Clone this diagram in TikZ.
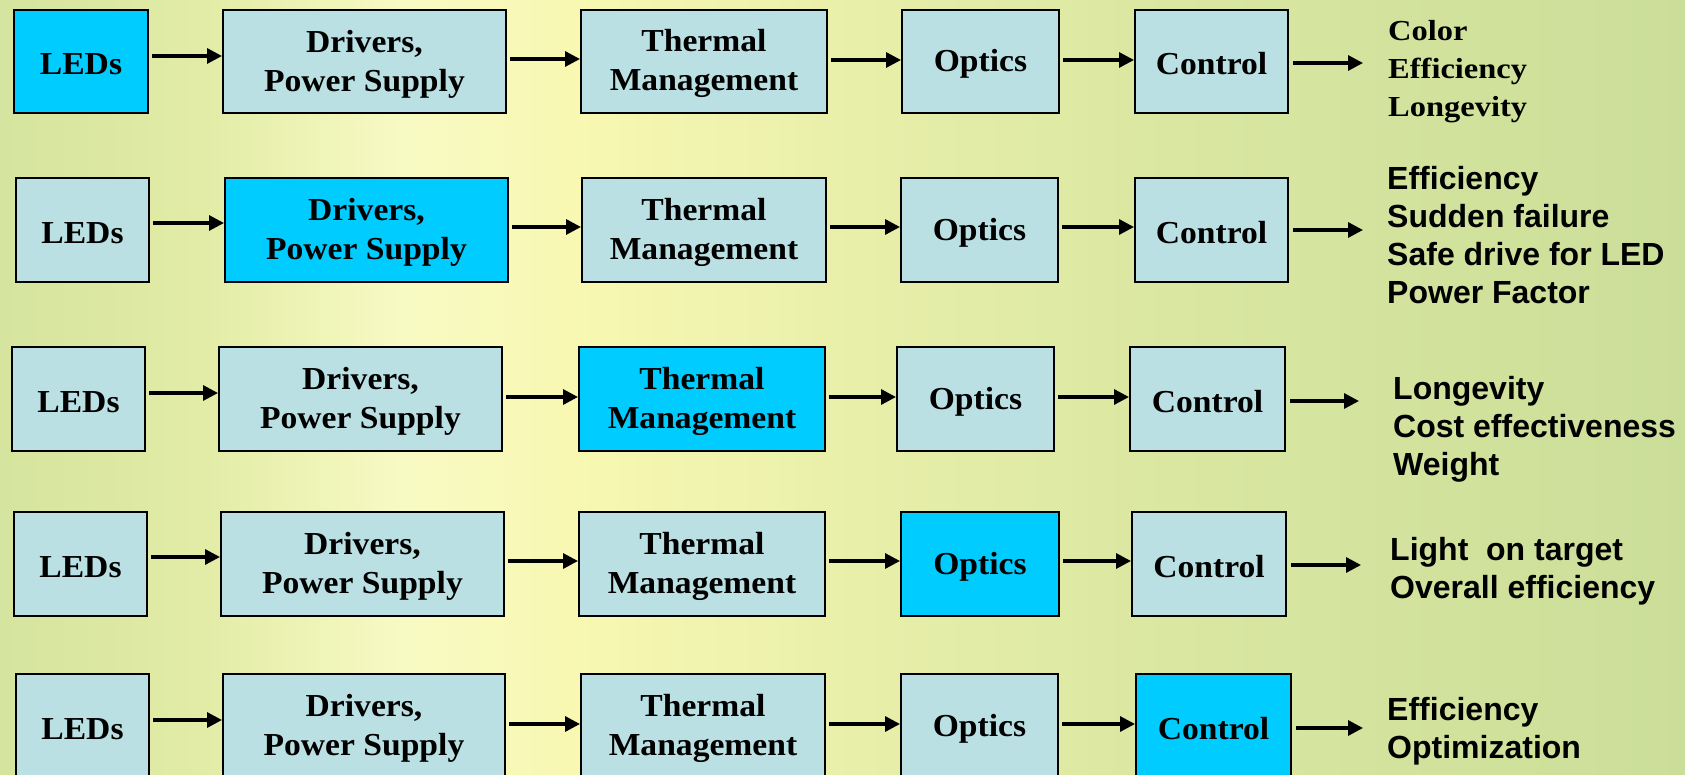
\documentclass[tikz,border=0pt]{standalone}
\usepackage{fontspec}
\usetikzlibrary{arrows.meta,calc}
\newfontfamily\boxfont{Liberation Serif}[FakeStretch=1.05]
\newfontfamily\rserif{Liberation Serif}[FakeStretch=1.12]
\newfontfamily\rsans{Liberation Sans}
\definecolor{boxfill}{HTML}{BBE0E3}
\definecolor{hifill}{HTML}{00CCFF}
\definecolor{bgA}{HTML}{D5E49E}
\definecolor{bgB}{HTML}{E2ECA6}
\definecolor{bgC}{HTML}{F8FAC4}
\definecolor{bgD}{HTML}{F8F8B2}
\definecolor{bgE}{HTML}{E6EEA8}
\definecolor{bgF}{HTML}{D8E6A0}
\definecolor{bgG}{HTML}{CBDE99}
\pgfdeclarehorizontalshading{bgsh}{100bp}{color(0bp)=(bgA); color(25bp)=(bgA); color(31bp)=(bgB); color(37bp)=(bgC); color(42bp)=(bgD); color(51.5bp)=(bgE); color(61bp)=(bgF); color(75bp)=(bgG); color(100bp)=(bgG)}
\newcommand\lowr{\rule{0pt}{27pt}}
\tikzset{
  blk/.style={draw=black, line width=2pt, fill=boxfill, inner sep=0pt, anchor=north west,
    align=center, font=\boxfont\bfseries\fontsize{32}{39}\selectfont},
  hi/.style={fill=hifill},
  arr/.style={line width=3.2pt, -{Triangle[length=15pt,width=15pt]}},
  outs/.style={anchor=north west, align=left, inner sep=0pt},
  serifout/.style={outs, font=\rserif\bfseries\fontsize{29}{38}\selectfont},
  sansout/.style={outs, font=\rsans\bfseries\fontsize{32}{38}\selectfont},
}
\begin{document}
\begin{tikzpicture}[x=1pt,y=-1pt]
\useasboundingbox (0,0) rectangle (1685,775);
\shade[shading=bgsh] (0,0) rectangle (1685,775);
% Row 1
\node[blk,hi,minimum width=134pt,minimum height=103pt] (a1) at (13,9) {\lowr LEDs};
\node[blk,minimum width=283pt,minimum height=103pt] (b1) at (222,9) {\lowr Drivers,\\Power Supply};
\node[blk,minimum width=246pt,minimum height=103pt] (c1) at (580,9) {\lowr Thermal\\Management};
\node[blk,minimum width=157pt,minimum height=103pt] (d1) at (901,9) {\lowr Optics};
\node[blk,minimum width=153pt,minimum height=103pt] (e1) at (1134,9) {\lowr Control};
\coordinate (o1) at (1363,63);
\draw[arr] ($(a1.east|-0,56)+(3,0)$) -- (b1.west|-0,56);
\draw[arr] ($(b1.east|-0,59)+(3,0)$) -- (c1.west|-0,59);
\draw[arr] ($(c1.east|-0,60)+(3,0)$) -- (d1.west|-0,60);
\draw[arr] ($(d1.east|-0,60)+(3,0)$) -- (e1.west|-0,60);
\draw[arr] ($(e1.east|-o1)+(4,0)$) -- (o1);
\node[serifout] (t1) at (1388,20) {Color\\Efficiency\\Longevity};
% Row 2
\node[blk,minimum width=133pt,minimum height=104pt] (a2) at (15,177) {\lowr LEDs};
\node[blk,hi,minimum width=283pt,minimum height=104pt] (b2) at (224,177) {\lowr Drivers,\\Power Supply};
\node[blk,minimum width=244pt,minimum height=104pt] (c2) at (581,177) {\lowr Thermal\\Management};
\node[blk,minimum width=157pt,minimum height=104pt] (d2) at (900,177) {\lowr Optics};
\node[blk,minimum width=153pt,minimum height=104pt] (e2) at (1134,177) {\lowr Control};
\coordinate (o2) at (1363,230);
\draw[arr] ($(a2.east|-0,223)+(3,0)$) -- (b2.west|-0,223);
\draw[arr] ($(b2.east|-0,227)+(3,0)$) -- (c2.west|-0,227);
\draw[arr] ($(c2.east|-0,227)+(3,0)$) -- (d2.west|-0,227);
\draw[arr] ($(d2.east|-0,227)+(3,0)$) -- (e2.west|-0,227);
\draw[arr] ($(e2.east|-o2)+(4,0)$) -- (o2);
\node[sansout] (t2) at (1387,166) {Efficiency\\Sudden failure\\Safe drive for LED\\Power Factor};
% Row 3
\node[blk,minimum width=133pt,minimum height=104pt] (a3) at (11,346) {\lowr LEDs};
\node[blk,minimum width=283pt,minimum height=104pt] (b3) at (218,346) {\lowr Drivers,\\Power Supply};
\node[blk,hi,minimum width=246pt,minimum height=104pt] (c3) at (578,346) {\lowr Thermal\\Management};
\node[blk,minimum width=157pt,minimum height=104pt] (d3) at (896,346) {\lowr Optics};
\node[blk,minimum width=155pt,minimum height=104pt] (e3) at (1129,346) {\lowr Control};
\coordinate (o3) at (1359,401);
\draw[arr] ($(a3.east|-0,393)+(3,0)$) -- (b3.west|-0,393);
\draw[arr] ($(b3.east|-0,397)+(3,0)$) -- (c3.west|-0,397);
\draw[arr] ($(c3.east|-0,397)+(3,0)$) -- (d3.west|-0,397);
\draw[arr] ($(d3.east|-0,397)+(3,0)$) -- (e3.west|-0,397);
\draw[arr] ($(e3.east|-o3)+(4,0)$) -- (o3);
\node[sansout] (t3) at (1393,376) {Longevity\\Cost effectiveness\\Weight};
% Row 4
\node[blk,minimum width=133pt,minimum height=104pt] (a4) at (13,511) {\lowr LEDs};
\node[blk,minimum width=283pt,minimum height=104pt] (b4) at (220,511) {\lowr Drivers,\\Power Supply};
\node[blk,minimum width=246pt,minimum height=104pt] (c4) at (578,511) {\lowr Thermal\\Management};
\node[blk,hi,minimum width=158pt,minimum height=104pt] (d4) at (900,511) {\lowr Optics};
\node[blk,minimum width=154pt,minimum height=104pt] (e4) at (1131,511) {\lowr Control};
\coordinate (o4) at (1361,565);
\draw[arr] ($(a4.east|-0,557)+(3,0)$) -- (b4.west|-0,557);
\draw[arr] ($(b4.east|-0,561)+(3,0)$) -- (c4.west|-0,561);
\draw[arr] ($(c4.east|-0,561)+(3,0)$) -- (d4.west|-0,561);
\draw[arr] ($(d4.east|-0,561)+(3,0)$) -- (e4.west|-0,561);
\draw[arr] ($(e4.east|-o4)+(4,0)$) -- (o4);
\node[sansout] (t4) at (1390,537) {Light\ \ on target\\Overall efficiency};
% Row 5
\node[blk,minimum width=133pt,minimum height=104pt] (a5) at (15,673) {\lowr LEDs};
\node[blk,minimum width=282pt,minimum height=104pt] (b5) at (222,673) {\lowr Drivers,\\Power Supply};
\node[blk,minimum width=244pt,minimum height=104pt] (c5) at (580,673) {\lowr Thermal\\Management};
\node[blk,minimum width=157pt,minimum height=104pt] (d5) at (900,673) {\lowr Optics};
\node[blk,hi,minimum width=155pt,minimum height=104pt] (e5) at (1135,673) {\lowr Control};
\coordinate (o5) at (1363,728);
\draw[arr] ($(a5.east|-0,720)+(3,0)$) -- (b5.west|-0,720);
\draw[arr] ($(b5.east|-0,724)+(3,0)$) -- (c5.west|-0,724);
\draw[arr] ($(c5.east|-0,724)+(3,0)$) -- (d5.west|-0,724);
\draw[arr] ($(d5.east|-0,724)+(3,0)$) -- (e5.west|-0,724);
\draw[arr] ($(e5.east|-o5)+(4,0)$) -- (o5);
\node[sansout] (t5) at (1387,697) {Efficiency\\Optimization};
\end{tikzpicture}
\end{document}
